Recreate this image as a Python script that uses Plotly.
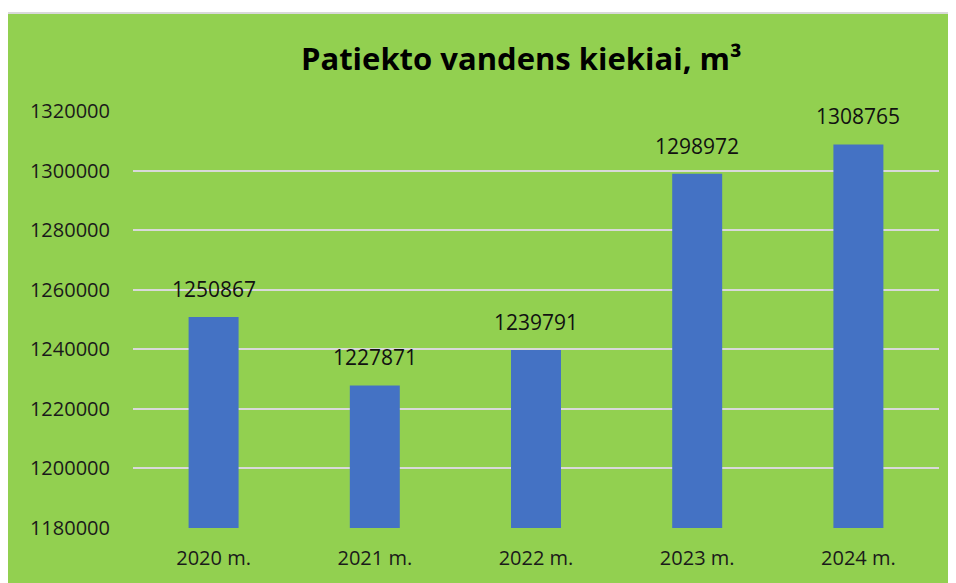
import plotly.graph_objects as go

years = ["2020 m.", "2021 m.", "2022 m.", "2023 m.", "2024 m."]
volumes = [1250867, 1227871, 1239791, 1298972, 1308765]
y_ticks = [1180000, 1200000, 1220000, 1240000, 1260000, 1280000, 1300000, 1320000]

GREEN = "#92D050"
BLUE = "#4472C4"
GRID = "#D9D9D9"
FONT = "Open Sans"

fig = go.Figure()
fig.add_trace(
    go.Bar(
        x=years,
        y=volumes,
        marker=dict(color=BLUE, line=dict(width=0)),
        hoverinfo="x+y",
    )
)

# value labels above the bars
for year, value in zip(years, volumes):
    fig.add_annotation(
        x=year, y=value, text=str(value), showarrow=False,
        yanchor="bottom", yshift=12,
        font=dict(family=FONT, size=21, color="#111111"),
    )

# white strip above/left of the green chart panel, plus its grey frame
fig.add_shape(type="rect", xref="paper", yref="paper",
              x0=-0.5, x1=1.5, y0=1.235, y1=1.6,
              fillcolor="white", line=dict(width=0), layer="below")
fig.add_shape(type="rect", xref="paper", yref="paper",
              x0=-0.5, x1=-0.16, y0=-0.5, y1=1.6,
              fillcolor="white", line=dict(width=0), layer="below")
fig.add_shape(type="rect", xref="paper", yref="paper",
              x0=-0.16, x1=1.5, y0=-0.5, y1=1.235,
              fillcolor="rgba(0,0,0,0)", line=dict(color=GRID, width=2), layer="below")

fig.update_layout(
    width=956,
    height=583,
    margin=dict(l=125, r=25, t=103, b=63),
    paper_bgcolor=GREEN,
    plot_bgcolor="rgba(0,0,0,0)",
    bargap=0.69,
    showlegend=False,
    title=dict(
        text="<b>Patiekto vandens kiekiai, m³</b>",
        x=0.537, xanchor="center", xref="container",
        y=0.913, yanchor="middle", yref="container",
        font=dict(family=FONT, size=31, color="#000000"),
    ),
    font=dict(family=FONT),
)
fig.update_xaxes(
    showgrid=False, showline=False, zeroline=False,
    tickfont=dict(family=FONT, size=20, color="#1a1a1a"),
    ticklabelstandoff=16,
)
fig.update_yaxes(
    range=[1180000, 1320000],
    tickvals=y_ticks,
    ticktext=[str(t) for t in y_ticks],
    showgrid=True, gridcolor=GRID, gridwidth=2,
    zeroline=False, showline=False,
    tickfont=dict(family=FONT, size=20, color="#1a1a1a"),
    ticklabelstandoff=22,
)

fig.write_html("out.html")
